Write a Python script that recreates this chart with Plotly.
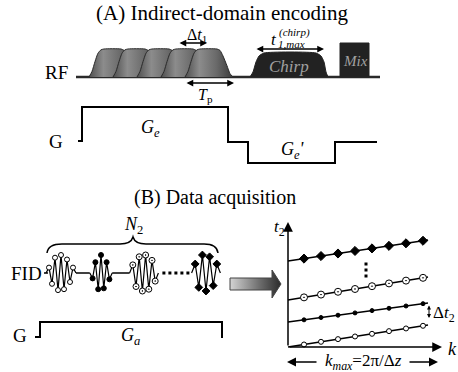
import plotly.graph_objects as go

# ---------------- data (diagram units = pixels of the 458x372 canvas) ----------------
RF_BASE = 77
RF_PULSE_STARTS = [89, 113, 137, 161, 185]
PULSE_PROFILE_DX = [0, 3, 6, 9, 12, 15, 32, 35, 38, 42, 45, 48]
PULSE_PROFILE_H = [0, 0.2, 0.55, 0.85, 0.97, 1.0, 1.0, 0.95, 0.75, 0.4, 0.12, 0]
PULSE_HEIGHT = 28
CHIRP_X = [250, 253, 256, 259, 264, 316, 321, 324, 326, 328]
CHIRP_Y = [77, 72, 62, 56, 53, 53, 56, 62, 72, 77]
MIX_BOX = [340, 369, 43, 77]

GA_X = [78, 82, 82, 228, 228, 248, 248, 335, 335, 377]
GA_Y = [141, 141, 107, 107, 142, 142, 163, 163, 142, 142]
GB_X = [35, 40, 40, 222, 222]
GB_Y = [337, 337, 322, 322, 338]

FID_BASE = 273
FID_HALF = 18
FID_CENTERS = [61, 101, 144, 206]
FID_SPACING = [3.0, 2.8, 3.2, 3.6]
FID_AMPS = [
    [0.3, -0.6, 0.85, -0.95, 1.0, -0.9, 0.75, -0.5, 0.3],
    [-0.3, 0.6, -0.9, 1.0, -0.85, 0.6, -0.35],
    [0.45, -0.75, 0.9, -1.0, 1.0, -0.9, 0.7, -0.45],
    [0.5, -0.8, 1.0, -1.0, 0.9, -0.7, 0.5],
]
FID_SYMBOLS = ["circle", "circle", "circle-dot", "diamond"]
FID_FILL = ["white", "black", "white", "black"]

K_ORIGIN = (288, 347)
K_LINE_START_Y = [347, 322, 300, 261]
K_LINE_END_Y = [325, 303, 277, 240]
K_LINE_END_X = 428
K_MARKER_X = [304, 321, 338, 355, 372, 389, 406, 423]
K_SYMBOLS = ["circle", "circle", "circle-dot", "diamond"]
K_FILL = ["white", "black", "white", "black"]
K_SIZES = [5, 4, 7, 7]

SERIF = "Liberation Serif"

fig = go.Figure()

# ---------------- (A) RF line ----------------
fig.add_trace(go.Scatter(x=[76, 380], y=[RF_BASE, RF_BASE], mode="lines",
                         line=dict(color="#2a2a2a", width=2.5), hoverinfo="skip"))
for x0 in RF_PULSE_STARTS:
    xs = [x0 + d for d in PULSE_PROFILE_DX]
    ys = [RF_BASE - h * PULSE_HEIGHT for h in PULSE_PROFILE_H]
    fig.add_trace(go.Scatter(
        x=xs, y=ys, mode="lines", fill="toself",
        line=dict(color="#2a2a2a", width=1, shape="spline", smoothing=0.6),
        fillgradient=dict(type="horizontal", start=x0, stop=x0 + 48,
                          colorscale=[[0, "#4e4e4e"], [0.3, "#8c8c8c"], [0.65, "#6a6a6a"], [1, "#3a3a3a"]]),
        hoverinfo="skip"))

fig.add_trace(go.Scatter(x=CHIRP_X, y=CHIRP_Y, mode="lines", fill="toself", fillcolor="#222222",
                         line=dict(color="#222222", width=1, shape="spline", smoothing=0.6), hoverinfo="skip"))
mx0, mx1, my0, my1 = MIX_BOX
fig.add_trace(go.Scatter(x=[mx0, mx1, mx1, mx0, mx0], y=[my0, my0, my1, my1, my0], mode="lines",
                         fill="toself", fillcolor="#222222", line=dict(color="#222222", width=1), hoverinfo="skip"))

# ---------------- gradients ----------------
fig.add_trace(go.Scatter(x=GA_X, y=GA_Y, mode="lines", line=dict(color="black", width=2), hoverinfo="skip"))
fig.add_trace(go.Scatter(x=GB_X, y=GB_Y, mode="lines", line=dict(color="black", width=2), hoverinfo="skip"))

# ---------------- (B) FID ----------------
fig.add_trace(go.Scatter(x=[44, 48], y=[FID_BASE, FID_BASE], mode="lines",
                         line=dict(color="black", width=1.5), hoverinfo="skip"))
seg_ends = []
for i, (xc, dx, amps) in enumerate(zip(FID_CENTERS, FID_SPACING, FID_AMPS)):
    n = len(amps)
    px = [xc + (j - (n - 1) / 2) * dx for j in range(n)]
    py = [FID_BASE - a * FID_HALF for a in amps]
    xs = [px[0] - dx] + px + [px[-1] + dx]
    ys = [FID_BASE] + py + [FID_BASE]
    seg_ends.append((xs[0], xs[-1]))
    fig.add_trace(go.Scatter(x=xs, y=ys, mode="lines", line=dict(color="black", width=1.2), hoverinfo="skip"))
    fig.add_trace(go.Scatter(x=px, y=py, mode="markers",
                             marker=dict(symbol=FID_SYMBOLS[i], size=5 if i < 2 else 6, color=FID_FILL[i],
                                         line=dict(color="black", width=1)), hoverinfo="skip"))
for i in range(len(seg_ends) - 1):
    a = seg_ends[i][1]
    b = seg_ends[i + 1][0]
    if i < 2:
        fig.add_trace(go.Scatter(x=[a, b], y=[FID_BASE, FID_BASE], mode="lines",
                                 line=dict(color="black", width=1.5), hoverinfo="skip"))
    else:
        fig.add_trace(go.Scatter(x=[a + 4, b - 2], y=[FID_BASE, FID_BASE], mode="lines",
                                 line=dict(color="black", width=3, dash="dot"), hoverinfo="skip"))

# brace over FIDs
fig.add_shape(type="path",
              path="M 47 253 Q 48 244 62 244 L 120 244 Q 131 244 133 237 Q 135 244 146 244 L 204 244 Q 217 244 218 253",
              line=dict(color="black", width=1.5))

# big gradient arrow
fig.add_trace(go.Scatter(x=[230, 272, 272, 281, 272, 272, 230, 230],
                         y=[278, 278, 270, 284, 298, 290, 290, 278], mode="lines", fill="toself",
                         fillgradient=dict(type="horizontal", start=230, stop=281,
                                           colorscale=[[0, "#d4d4d4"], [0.6, "#6a6a6a"], [1, "#2a2a2a"]]),
                         line=dict(color="#444444", width=1), hoverinfo="skip"))

# ---------------- k-space plot ----------------
ox, oy = K_ORIGIN
for i in range(4):
    y0, y1 = K_LINE_START_Y[i], K_LINE_END_Y[i]
    fig.add_trace(go.Scatter(x=[ox, K_LINE_END_X], y=[y0, y1], mode="lines",
                             line=dict(color="black", width=1.5), hoverinfo="skip"))
    my = [y0 + (y1 - y0) * (x - ox) / (K_LINE_END_X - ox) for x in K_MARKER_X]
    fig.add_trace(go.Scatter(x=K_MARKER_X, y=my, mode="markers",
                             marker=dict(symbol=K_SYMBOLS[i], size=K_SIZES[i], color=K_FILL[i],
                                         line=dict(color="black", width=1)), hoverinfo="skip"))
fig.add_trace(go.Scatter(x=[366, 366, 366], y=[264, 270, 276], mode="markers",
                         marker=dict(symbol="square", size=3, color="black"), hoverinfo="skip"))

ann = []

def arrow(x, y, ax, ay, both=False, size=1.0, width=1.5, head=2):
    ann.append(dict(x=x, y=y, ax=ax, ay=ay, xref="x", yref="y", axref="x", ayref="y", text="",
                    showarrow=True, arrowhead=head, arrowsize=size, arrowwidth=width, arrowcolor="black",
                    startarrowhead=head, startarrowsize=size,
                    arrowside="end+start" if both else "end"))

def label(x, y, text, size=18, color="black", xanchor="center", bg=None):
    d = dict(x=x, y=y, xref="x", yref="y", text=text, showarrow=False, xanchor=xanchor, yanchor="middle",
             font=dict(family=SERIF, size=size, color=color))
    if bg:
        d["bgcolor"] = bg
    ann.append(d)

# axes arrows
arrow(ox, 222, ox, oy, size=1.3)
arrow(442, oy, ox, oy, size=1.3)
# delta t2
arrow(429, 318, 429, 304, both=True, size=0.8, width=1)
# kmax
arrow(287, 362, 318, 362, size=1.2)
arrow(438, 362, 408, 362, size=1.2)
# delta t1, Tp, chirp
arrow(207, 43, 178, 43, both=True, size=0.9)
arrow(234, 83, 185, 83, both=True, size=0.9)
arrow(324, 49, 255, 49, both=True, size=0.9)

label(222, 13, "(A) Indirect-domain encoding", size=21)
label(215, 197, "(B) Data acquisition", size=20)
label(56, 72, "RF", size=19)
label(56, 141, "G", size=19)
label(20, 335, "G", size=19)
label(26, 273, "FID", size=19)
label(197, 35, "Δ<i>t</i><sub>1</sub>", size=16)
label(205, 95, "<i>T</i><sub>p</sub>", size=16)
label(274, 39, "<i>t</i>", size=17)
label(294, 32, "<i>(chirp)</i>", size=11)
label(291, 44, "<i>1,max</i>", size=11)
label(289, 66, "<i>Chirp</i>", size=17, color="#a0a0a0")
label(355, 61, "<i>Mix</i>", size=15, color="#a0a0a0")
label(150, 128, "<i>G<sub>e</sub></i>", size=18)
label(293, 150, "<i>G<sub>e</sub>'</i>", size=18)
label(133, 225, "<i>N</i><sub>2</sub>", size=18)
label(130, 336, "<i>G<sub>a</sub></i>", size=18)
label(279, 228, "<i>t</i><sub>2</sub>", size=17)
label(452, 349, "<i>k</i>", size=18)
label(444, 314, "Δ<i>t</i><sub>2</sub>", size=17)
label(363, 362, "<i>k</i><sub><i>max</i></sub>=2π/Δ<i>z</i>", size=17)

fig.update_layout(
    width=458, height=372, margin=dict(l=0, r=0, t=0, b=0),
    paper_bgcolor="white", plot_bgcolor="white", showlegend=False,
    xaxis=dict(range=[0, 458], visible=False, fixedrange=True),
    yaxis=dict(range=[372, 0], visible=False, fixedrange=True),
    annotations=ann,
)
fig.write_html("out.html")
